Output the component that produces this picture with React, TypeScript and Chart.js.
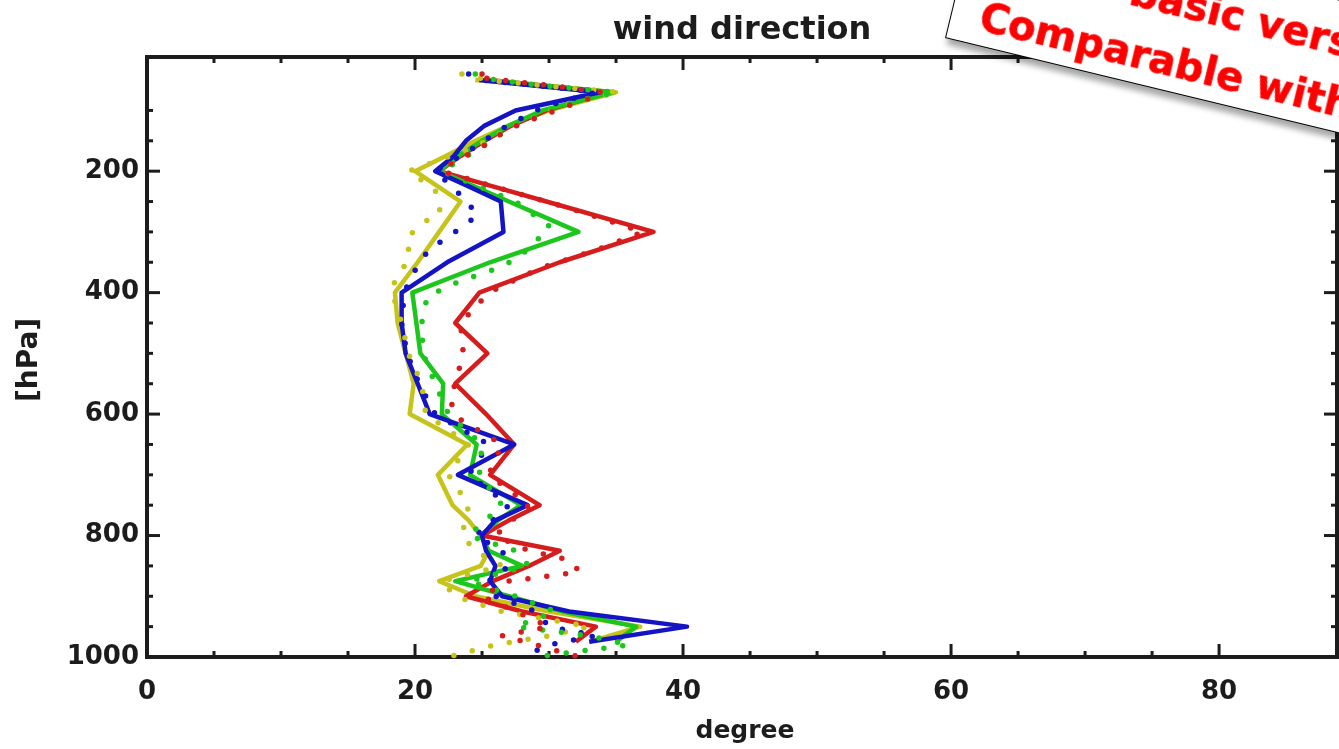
import React, { useEffect, useRef } from 'react';
import { Chart, registerables } from 'chart.js';

Chart.register(...registerables);

// ---------- data ----------
const TITLE = 'wind direction';
const X_TITLE = 'degree';
const Y_TITLE = '[hPa]';

// model pressure levels (hPa)
const LEVELS = [50, 70, 100, 125, 150, 175, 200, 225, 250, 300, 350, 400, 450, 500, 550, 600, 650, 700, 750, 775, 800, 825, 850, 875, 900, 925, 950, 975];
const RED_MODEL = [25.5, 34.5, 29.8, 27.2, 25.2, 23.4, 21.8, 25.8, 29.8, 37.8, 30.8, 24.8, 23.0, 25.4, 23.0, 25.3, 27.4, 25.6, 29.3, 27.0, 25.0, 30.8, 28.5, 25.8, 23.8, 28.0, 33.5, 32.0];
const GREEN_MODEL = [25.2, 34.8, 29.5, 27.0, 25.0, 23.2, 21.8, 24.4, 27.0, 32.2, 25.6, 19.8, 20.1, 20.4, 22.1, 22.0, 24.6, 24.1, 27.9, 26.2, 24.9, 25.5, 28.0, 23.0, 27.0, 31.0, 36.5, 35.0];
const BLUE_MODEL = [24.8, 33.8, 27.5, 25.2, 23.8, 22.9, 21.5, 24.0, 26.4, 26.6, 22.4, 19.0, 19.0, 19.3, 20.2, 21.1, 27.4, 23.2, 28.4, 26.0, 25.0, 25.3, 26.0, 25.6, 26.5, 31.5, 40.3, 33.0];
const YELLOW_MODEL = [24.5, 35.0, 30.0, 27.0, 24.5, 22.3, 20.0, 21.7, 23.4, 21.8, 20.2, 18.5, 18.7, 19.3, 19.9, 19.6, 23.9, 21.7, 22.8, 24.0, 24.9, 25.5, 24.9, 21.8, 24.5, 30.0, 36.8, 33.0];

// observed (dotted) profiles
const RED_OBS_P = [40, 45, 50, 60, 70, 80, 100, 130, 160, 190, 200, 230, 260, 300, 330, 360, 400, 450, 500, 550, 575, 605, 650, 700, 750, 800, 825, 840, 860, 875, 900, 925, 950, 965, 980, 1000];
const RED_OBS_V = [25.0, 24.5, 26.5, 30.5, 34.0, 33.0, 30.5, 27.0, 25.0, 22.5, 22.0, 26.6, 31.4, 37.0, 33.5, 29.3, 25.5, 23.4, 23.6, 23.0, 22.6, 23.1, 26.5, 25.5, 28.5, 26.0, 28.5, 31.5, 32.3, 27.0, 25.0, 27.5, 30.0, 26.5, 29.0, 32.3];
const GREEN_OBS_P = [40, 50, 60, 70, 85, 100, 130, 160, 200, 250, 292, 335, 355, 368, 379, 391, 407, 450, 500, 550, 600, 650, 700, 750, 800, 825, 850, 875, 900, 925, 950, 965, 980, 1000];
const GREEN_OBS_V = [24.5, 26.0, 30.0, 35.0, 32.0, 30.0, 27.0, 25.0, 22.0, 27.5, 30.1, 28.1, 26.7, 25.1, 23.6, 22.3, 20.9, 20.5, 20.6, 21.5, 22.5, 25.0, 24.8, 26.5, 24.0, 27.5, 28.5, 24.0, 27.5, 30.5, 27.5, 33.0, 36.0, 29.0];
const BLUE_OBS_P = [40, 50, 60, 70, 85, 100, 130, 160, 200, 230, 272, 294, 330, 370, 400, 450, 500, 550, 600, 650, 700, 750, 800, 825, 850, 875, 900, 925, 950, 965, 980, 1000];
const BLUE_OBS_V = [24.0, 25.0, 29.5, 33.5, 31.0, 29.0, 26.5, 24.5, 21.5, 23.0, 24.7, 23.4, 21.0, 19.8, 19.2, 19.0, 19.4, 20.3, 21.5, 25.5, 24.0, 27.0, 24.5, 26.5, 27.0, 25.5, 26.0, 29.0, 30.0, 33.5, 30.0, 28.0];
const YELLOW_OBS_P = [40, 50, 60, 70, 85, 100, 130, 160, 200, 230, 269, 286, 310, 343, 380, 400, 450, 500, 550, 600, 650, 700, 750, 800, 825, 850, 875, 900, 925, 950, 965, 980, 1000];
const YELLOW_OBS_V = [23.5, 25.5, 30.0, 35.2, 32.0, 30.0, 27.0, 24.5, 19.5, 21.5, 21.9, 20.5, 19.4, 19.6, 18.5, 18.3, 19.0, 19.5, 20.5, 20.8, 24.0, 22.5, 24.0, 23.5, 24.5, 26.5, 22.0, 23.0, 26.5, 33.0, 30.0, 26.0, 22.5];

const NOTE_LINE1 = 'basic version';
const NOTE_LINE2 = 'Comparable with';

// axis ranges and ticks
const X_MIN = 0;
const X_MAX = 88.8;
const X_MINOR = 5;
const X_MAJOR = 20;
const Y_MIN = 12;
const Y_MAX = 1000;
const Y_MINOR = 50;
const Y_MAJOR = 200;

const RED = '#d61c1c';
const GREEN = '#1cc61c';
const BLUE = '#1414c4';
const YELLOW = '#c6c41a';
const INK = '#1c1c1c';
const FONT = '"DejaVu Sans", "Liberation Sans", sans-serif';

const pts = (xs: number[], ps: number[]) => ps.map((p, i) => ({ x: xs[i], y: p }));

const modelDs = (label: string, color: string, vals: number[]) => ({
  label,
  data: pts(vals, LEVELS),
  showLine: true,
  borderColor: color,
  backgroundColor: color,
  borderWidth: 4.5,
  pointRadius: 0,
  borderJoinStyle: 'round' as const,
  clip: 8,
});

const obsDs = (label: string, color: string, vals: number[], ps: number[]) => ({
  label,
  data: pts(vals, ps),
  showLine: true,
  borderColor: color,
  backgroundColor: color,
  borderWidth: 5.5,
  borderDash: [0, 19],
  borderCapStyle: 'round' as const,
  pointRadius: 0,
  clip: 8,
});

const framePlugin = {
  id: 'idlFrame',
  beforeDatasetsDraw(chart: any) {
    const { ctx, chartArea: a, scales } = chart;
    const xs = scales.x;
    const ys = scales.y;
    ctx.save();
    ctx.strokeStyle = INK;
    ctx.lineCap = 'butt';
    ctx.lineWidth = 3;
    const seg = (x1: number, y1: number, x2: number, y2: number) => {
      ctx.beginPath();
      ctx.moveTo(x1, y1);
      ctx.lineTo(x2, y2);
      ctx.stroke();
    };
    for (const t of xs.ticks) {
      const v = t.value;
      if (Math.abs(v / X_MINOR - Math.round(v / X_MINOR)) > 1e-6) continue;
      const px = xs.getPixelForValue(v);
      const len = Math.abs(v % X_MAJOR) < 1e-6 ? 13 : 6;
      seg(px, a.bottom, px, a.bottom - len);
      seg(px, a.top, px, a.top + len);
    }
    for (const t of ys.ticks) {
      const v = t.value;
      if (Math.abs(v / Y_MINOR - Math.round(v / Y_MINOR)) > 1e-6) continue;
      const py = ys.getPixelForValue(v);
      const len = Math.abs(v % Y_MAJOR) < 1e-6 ? 13 : 6;
      seg(a.left, py, a.left + len, py);
      seg(a.right, py, a.right - len, py);
    }
    ctx.lineWidth = 4;
    ctx.strokeRect(a.left, a.top, a.right - a.left, a.bottom - a.top);
    ctx.restore();
  },
  afterDraw(chart: any) {
    const { ctx, chartArea: a } = chart;
    ctx.save();
    ctx.fillStyle = INK;
    ctx.textAlign = 'center';
    ctx.textBaseline = 'alphabetic';
    ctx.font = `bold 32px ${FONT}`;
    ctx.fillText(TITLE, (a.left + a.right) / 2, 39);
    ctx.font = `bold 25px ${FONT}`;
    ctx.fillText(X_TITLE, 745, 738);
    ctx.translate(37, 360);
    ctx.rotate(-Math.PI / 2);
    ctx.font = `bold 28px ${FONT}`;
    ctx.fillText(Y_TITLE, 0, 0);
    ctx.restore();
  },
};

export default function App() {
  const ref = useRef<HTMLCanvasElement>(null);
  useEffect(() => {
    const chart = new Chart(ref.current as HTMLCanvasElement, {
      type: 'scatter',
      data: {
        datasets: [
          obsDs('red obs', RED, RED_OBS_V, RED_OBS_P),
          obsDs('green obs', GREEN, GREEN_OBS_V, GREEN_OBS_P),
          obsDs('blue obs', BLUE, BLUE_OBS_V, BLUE_OBS_P),
          obsDs('yellow obs', YELLOW, YELLOW_OBS_V, YELLOW_OBS_P),
          modelDs('blue', BLUE, BLUE_MODEL),
          modelDs('green', GREEN, GREEN_MODEL),
          modelDs('red', RED, RED_MODEL),
          modelDs('yellow', YELLOW, YELLOW_MODEL),
        ] as any,
      },
      options: {
        animation: false,
        responsive: true,
        maintainAspectRatio: false,
        layout: { padding: { top: 57, right: 2, left: 0, bottom: 0 } },
        plugins: { legend: { display: false }, tooltip: { enabled: false }, title: { display: false } },
        scales: {
          x: {
            type: 'linear',
            min: X_MIN,
            max: X_MAX,
            grid: { display: false, drawTicks: false },
            border: { display: false },
            ticks: {
              stepSize: X_MINOR,
              autoSkip: false,
              maxRotation: 0,
              padding: 20,
              color: INK,
              font: { family: FONT, size: 26, weight: 'bold' },
              callback: (v: any) => (Math.abs(Number(v) % X_MAJOR) < 1e-6 ? String(v) : ''),
            },
            afterFit: (s: any) => {
              s.height = 92;
              s.paddingLeft = 0;
              s.paddingRight = 0;
            },
          },
          y: {
            type: 'linear',
            reverse: true,
            min: Y_MIN,
            max: Y_MAX,
            grid: { display: false, drawTicks: false },
            border: { display: false },
            ticks: {
              stepSize: Y_MINOR,
              autoSkip: false,
              padding: 8,
              color: INK,
              font: { family: FONT, size: 26, weight: 'bold' },
              callback: (v: any) => (Math.abs(Number(v) % Y_MAJOR) < 1e-6 ? String(v) : ''),
            },
            afterFit: (s: any) => {
              s.width = 147;
              s.paddingTop = 0;
              s.paddingBottom = 0;
            },
          },
        },
      } as any,
      plugins: [framePlugin],
    });
    return () => chart.destroy();
  }, []);

  const H = 130;
  const B = 1.5;
  const noteFont: React.CSSProperties = {
    position: 'absolute',
    whiteSpace: 'nowrap',
    color: '#ff0000',
    fontFamily: FONT,
    fontWeight: 'bold',
    fontSize: 40,
    lineHeight: '40px',
    WebkitTextStroke: '0.6px #ff0000',
  };

  return (
    <div style={{ position: 'fixed', left: 0, top: 0, width: 1339, height: 749, overflow: 'hidden', background: '#fff' }}>
      <div style={{ position: 'absolute', left: 0, top: 0, width: 1339, height: 749 }}>
        <canvas ref={ref} />
      </div>
      <div
        style={{
          position: 'absolute',
          left: 945,
          top: 38 - H,
          width: 700,
          height: H,
          boxSizing: 'border-box',
          background: '#fff',
          border: `${B}px solid #000`,
          boxShadow: '3px 6px 6px rgba(0,0,0,0.35)',
          transformOrigin: '0 100%',
          transform: 'rotate(13.6deg)',
        }}
      >
        <div style={{ ...noteFont, left: 170 - B, top: H - 76 - 33.85 - B }}>{NOTE_LINE1}</div>
        <div style={{ ...noteFont, left: 30 - B, top: H - 16 - 33.85 - B }}>{NOTE_LINE2}</div>
      </div>
    </div>
  );
}
